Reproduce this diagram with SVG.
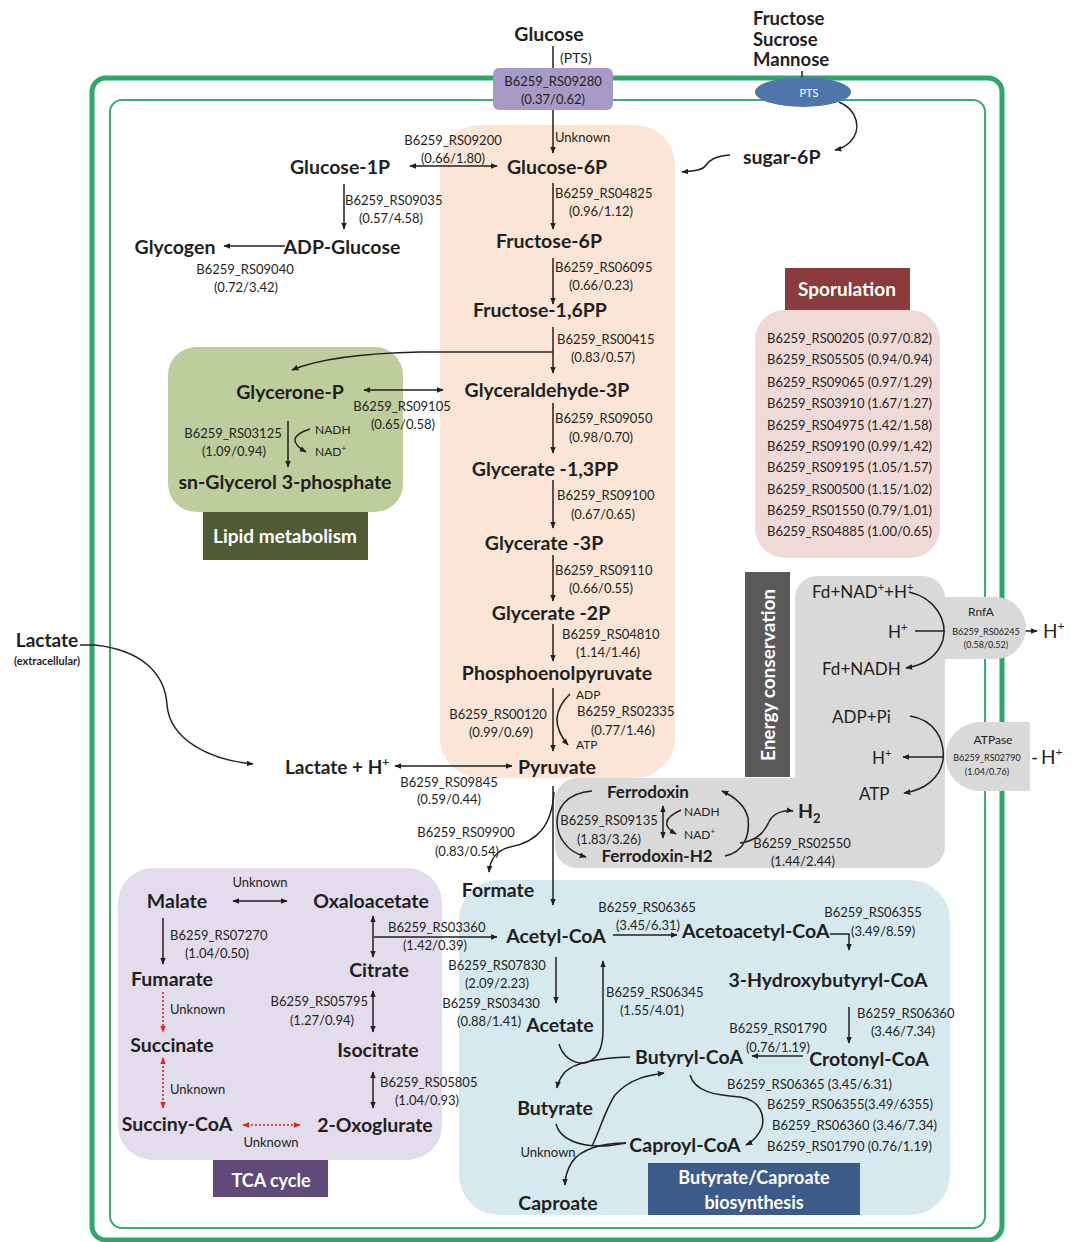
<svg xmlns="http://www.w3.org/2000/svg" width="1074" height="1242" viewBox="0 0 1074 1242">
<defs>
<marker id="a" viewBox="0 0 10 10" refX="9" refY="5" markerWidth="7" markerHeight="7" markerUnits="userSpaceOnUse" orient="auto-start-reverse"><path d="M0,1 L10,5 L0,9 z" fill="#231f20"/></marker>
<marker id="r" viewBox="0 0 10 10" refX="9" refY="5" markerWidth="7" markerHeight="7" markerUnits="userSpaceOnUse" orient="auto-start-reverse"><path d="M0,1 L10,5 L0,9 z" fill="#e2231a"/></marker>
<style>
text{font-family:Lato,"Liberation Sans",sans-serif;fill:#231f20}
.m{font-size:19.5px;font-weight:bold}
.m2{font-size:17px;font-weight:bold}
.g{font-size:13px}
.s{font-size:12px}
.t{font-size:9px}
.e{font-size:17px}
.w{fill:#fff;font-size:19px;font-weight:bold}
.c{text-anchor:middle}
.ln{fill:none;stroke:#231f20;stroke-width:1.5}
.ar{marker-end:url(#a)}
.da{marker-start:url(#a);marker-end:url(#a)}
.rd{fill:none;stroke:#e2231a;stroke-width:1.6;stroke-dasharray:2 2}
</style>
</defs>

<g id="membrane">
<rect x="92" y="78" width="910" height="1162" rx="14" fill="none" stroke="#2ea86a" stroke-width="5"/>
<rect x="110" y="100" width="875" height="1128" rx="12" fill="none" stroke="#3daa6e" stroke-width="2"/>
</g>

<g id="regions">
<rect id="glycolysis-box" x="440" y="125" width="235" height="653" rx="40" fill="#fbe5d6"/>
<rect id="lipid-box" x="168" y="347" width="235" height="165" rx="28" fill="#bdcd9b"/>
<rect x="203" y="512" width="165" height="48" fill="#505b35"/>
<rect id="sporulation-box" x="755" y="310" width="185" height="248" rx="30" fill="#efdad8"/>
<rect x="785" y="268" width="125" height="42" fill="#8a3b3b"/>
<rect x="795" y="576" width="150" height="292" rx="22" fill="#d9d9d9"/>
<rect x="555" y="778" width="390" height="90" rx="22" fill="#d9d9d9"/>
<rect x="745" y="572" width="45" height="205" fill="#595959"/>
<rect id="tca-box" x="118" y="868" width="324" height="292" rx="35" fill="#e2dcec"/>
<rect x="213" y="1160" width="115" height="37" fill="#5f4a7a"/>
<rect id="butyrate-box" x="459" y="880" width="491" height="335" rx="40" fill="#d6e9ef"/>
<rect x="648" y="1163" width="212" height="52" fill="#3c5b88"/>
</g>

<g id="connectors">
<path class="ln" d="M553,46 V68"/>
<path class="ln ar" d="M553,110 V153"/>
<path class="ln da" d="M410,166 H497"/>
<path class="ln ar" d="M344,184 V229"/>
<path class="ln ar" d="M285,246 H224"/>
<path class="ln ar" d="M553,183 V229"/>
<path class="ln ar" d="M553,258 V304"/>
<path class="ln ar" d="M553,327 V373"/>
<path class="ln ar" d="M553,352 H420 Q330,354 292,370"/>
<path class="ln da" d="M364,390 H443"/>
<path class="ln ar" d="M288,421 V467"/>
<path class="ln ar" d="M310,429 Q282,438 306,452"/>
<path class="ln ar" d="M553,403 V453"/>
<path class="ln ar" d="M553,480 V528"/>
<path class="ln ar" d="M553,555 V601"/>
<path class="ln ar" d="M553,624 V661"/>
<path class="ln ar" d="M553,688 V751"/>
<path class="ln ar" d="M570,694 Q545,718 568,745"/>
<path class="ln da" d="M395,766 H512"/>
<path class="ln ar" d="M80,645 H95 C140,650 165,672 167,705 C170,740 210,760 253,764"/>
<path class="ln ar" d="M553,786 V905"/>
<path class="ln ar" d="M554,792 C552,825 538,842 510,847 C495,851 490,860 489,872"/>
<path class="ln ar" d="M592,791 C565,793 557,810 557,822 C557,838 568,852 586,857"/>
<path class="ln ar" d="M725,856 C745,852 750,834 748,818 C745,805 735,797 722,791"/>
<path class="ln ar" d="M740,843 C760,840 765,830 770,820 C775,812 785,810 793,811"/>
<path class="ln da" d="M663,806 V838"/>
<path class="ln ar" d="M681,810 Q655,822 676,834"/>
<path class="ln" d="M915,631 H945"/>
<path class="ln ar" d="M909,592 C935,598 948,620 943,640 C938,655 925,665 906,668"/>
<path class="ln ar" d="M1022,631 H1037"/>
<path class="ln ar" d="M910,716 C935,720 945,740 943,760 C940,778 925,790 904,793"/>
<path class="ln ar" d="M943,757 H903"/>
<path class="ln ar" d="M730,155 C715,156 710,160 706,165 C703,170 695,171 682,172"/>
<path class="ln ar" d="M839,102 C858,110 862,130 850,142 C845,147 840,149 835,150"/>
<path class="ln" d="M802,71 V78"/>
<path class="ln da" d="M233,901 H287"/>
<path class="ln ar" d="M163,918 V964"/>
<path class="rd" marker-end="url(#r)" d="M163,992 V1032"/>
<path class="rd" marker-start="url(#r)" marker-end="url(#r)" d="M163,1058 V1108"/>
<path class="rd" marker-start="url(#r)" marker-end="url(#r)" d="M243,1125 H300"/>
<path class="ln da" d="M373,916 V957"/>
<path class="ln ar" d="M374,937 H497"/>
<path class="ln da" d="M373,991 V1032"/>
<path class="ln da" d="M373,1072 V1108"/>
<path class="ln ar" d="M613,935 H677"/>
<path class="ln ar" d="M830,934 H849 V950"/>
<path class="ln ar" d="M849,1007 V1043"/>
<path class="ln ar" d="M803,1056 H752"/>
<path class="ln ar" d="M556,957 V1003"/>
<path class="ln ar" d="M559,1044 C563,1058 575,1064 585,1063 C598,1060 603,1048 603,1030 V961"/>
<path class="ln ar" d="M630,1057 C600,1058 575,1062 565,1072 C560,1078 558,1082 557,1088"/>
<path class="ln" d="M556,1124 C560,1140 580,1146 600,1146 C610,1146 620,1144 626,1143"/>
<path class="ln ar" d="M626,1143 C600,1143 580,1150 572,1162 C567,1170 565,1178 565,1185"/>
<path class="ln ar" d="M592,1146 C600,1130 605,1110 615,1095 C630,1078 650,1075 664,1073"/>
<path class="ln ar" d="M690,1075 C695,1092 715,1095 740,1097 C760,1100 765,1115 762,1127 C758,1137 752,1142 746,1145"/>
</g>

<g id="transporter-RS09280">
<rect x="493" y="68" width="120" height="42" rx="6" fill="#a69bc6"/>
<text class="g c" x="553" y="86">B6259_RS09280</text>
<text class="g c" x="553" y="104">(0.37/0.62)</text>
</g>
<g id="transporter-PTS">
<ellipse cx="803" cy="92" rx="48" ry="15" fill="#4f75aa"/>
<text class="s c" x="809" y="97" style="fill:#fff;font-size:11px">PTS</text>
</g>
<g id="transporter-RnfA">
<path d="M945,597 H995 A31,31 0 0 1 995,659 H945 Z" fill="#d9d9d9"/>
<text class="s c" x="981" y="616">RnfA</text>
<text class="t c" x="986" y="635">B6259_RS06245</text>
<text class="t c" x="986" y="648">(0.58/0.52)</text>
</g>
<g id="transporter-ATPase">
<path d="M1030,722 V791 H980 A34.5,34.5 0 0 1 980,722 Z" fill="#d9d9d9"/>
<text class="s c" x="993" y="744">ATPase</text>
<text class="t c" x="987" y="761">B6259_RS02790</text>
<text class="t c" x="987" y="775">(1.04/0.76)</text>
</g>

<g id="glucose"><text class="m c" x="549" y="41">Glucose</text><text class="g" x="560" y="63" style="font-size:14px">(PTS)</text></g>
<g id="fsm">
<text class="m" x="753" y="25" style="font-size:18.5px">Fructose</text>
<text class="m" x="753" y="45.5" style="font-size:18.5px">Sucrose</text>
<text class="m" x="753" y="66" style="font-size:18.5px">Mannose</text>
</g>
<g id="sugar-6p"><text class="m" x="743" y="164">sugar-6P</text></g>
<g id="glucose-6p"><text class="m c" x="557" y="174">Glucose-6P</text><text class="g" x="555" y="142">Unknown</text></g>
<g id="glucose-1p"><text class="m c" x="340" y="174">Glucose-1P</text>
<text class="g c" x="453" y="145">B6259_RS09200</text><text class="g c" x="453" y="163">(0.66/1.80)</text>
<text class="g" x="345" y="205">B6259_RS09035</text><text class="g c" x="391" y="223">(0.57/4.58)</text></g>
<g id="adp-glucose"><text class="m c" x="342" y="254">ADP-Glucose</text>
<text class="g c" x="245" y="274">B6259_RS09040</text><text class="g c" x="246" y="292">(0.72/3.42)</text></g>
<g id="glycogen"><text class="m c" x="175" y="254">Glycogen</text></g>
<g id="fructose-6p"><text class="m c" x="549" y="248">Fructose-6P</text>
<text class="g" x="555" y="198">B6259_RS04825</text><text class="g c" x="601" y="216">(0.96/1.12)</text></g>
<g id="fructose-16pp"><text class="m c" x="540" y="317">Fructose-1,6PP</text>
<text class="g" x="555" y="272">B6259_RS06095</text><text class="g c" x="601" y="290">(0.66/0.23)</text></g>
<g id="glyceraldehyde-3p"><text class="m c" x="547" y="397">Glyceraldehyde-3P</text>
<text class="g" x="557" y="344">B6259_RS00415</text><text class="g c" x="603" y="362">(0.83/0.57)</text></g>
<g id="glycerone-p"><text class="m c" x="290" y="399">Glycerone-P</text>
<text class="g c" x="402" y="411">B6259_RS09105</text><text class="g c" x="403" y="429">(0.65/0.58)</text></g>
<g id="sn-glycerol-3p"><text class="m c" x="285" y="489">sn-Glycerol 3-phosphate</text>
<text class="s" x="315" y="434">NADH</text><text class="s" x="315" y="456">NAD<tspan font-size="8" dy="-5">+</tspan></text>
<text class="g c" x="233" y="438">B6259_RS03125</text><text class="g c" x="234" y="456">(1.09/0.94)</text></g>
<g id="lipid-label"><text class="w c" x="285" y="543">Lipid metabolism</text></g>
<g id="glycerate-13pp"><text class="m c" x="545" y="476">Glycerate -1,3PP</text>
<text class="g" x="555" y="423">B6259_RS09050</text><text class="g c" x="601" y="442">(0.98/0.70)</text></g>
<g id="glycerate-3p"><text class="m c" x="544" y="550">Glycerate -3P</text>
<text class="g" x="557" y="500">B6259_RS09100</text><text class="g c" x="603" y="519">(0.67/0.65)</text></g>
<g id="glycerate-2p"><text class="m c" x="551" y="620">Glycerate -2P</text>
<text class="g" x="555" y="575">B6259_RS09110</text><text class="g c" x="601" y="593">(0.66/0.55)</text></g>
<g id="pep"><text class="m c" x="557" y="680">Phosphoenolpyruvate</text>
<text class="g" x="562" y="639">B6259_RS04810</text><text class="g c" x="608" y="657">(1.14/1.46)</text></g>
<g id="pyruvate"><text class="m c" x="557" y="774">Pyruvate</text>
<text class="s" x="576" y="699">ADP</text><text class="s" x="576" y="749">ATP</text>
<text class="g c" x="498" y="719">B6259_RS00120</text><text class="g c" x="501" y="737">(0.99/0.69)</text>
<text class="g" x="577" y="716">B6259_RS02335</text><text class="g c" x="623" y="735">(0.77/1.46)</text></g>
<g id="lactate-h"><text class="m" x="285" y="774" style="font-size:19px">Lactate + H<tspan font-size="12" dy="-8">+</tspan></text>
<text class="g c" x="449" y="787">B6259_RS09845</text><text class="g c" x="449" y="804">(0.59/0.44)</text></g>
<g id="lactate-ext"><text class="c" x="47" y="647" style="font-size:19px;font-weight:bold">Lactate</text>
<text class="c" x="47" y="665" style="font-size:11px;font-weight:bold">(extracellular)</text></g>

<g id="sporulation">
<text class="w c" x="847" y="296">Sporulation</text>
<text class="g" x="767" y="343">B6259_RS00205 (0.97/0.82)</text>
<text class="g" x="767" y="364">B6259_RS05505 (0.94/0.94)</text>
<text class="g" x="767" y="387">B6259_RS09065 (0.97/1.29)</text>
<text class="g" x="767" y="408">B6259_RS03910 (1.67/1.27)</text>
<text class="g" x="767" y="430">B6259_RS04975 (1.42/1.58)</text>
<text class="g" x="767" y="451">B6259_RS09190 (0.99/1.42)</text>
<text class="g" x="767" y="472">B6259_RS09195 (1.05/1.57)</text>
<text class="g" x="767" y="494">B6259_RS00500 (1.15/1.02)</text>
<text class="g" x="767" y="515">B6259_RS01550 (0.79/1.01)</text>
<text class="g" x="767" y="536">B6259_RS04885  (1.00/0.65)</text>
</g>

<g id="energy">
<text class="w c" transform="translate(775,675) rotate(-90)">Energy conservation</text>
<text class="e" x="812" y="598">Fd+NAD<tspan font-size="11" dy="-7">+</tspan><tspan dy="7">+H</tspan><tspan font-size="11" dy="-7">+</tspan></text>
<text class="e" x="888" y="638">H<tspan font-size="11" dy="-7">+</tspan></text>
<text class="e" x="822" y="675">Fd+NADH</text>
<text class="e" x="832" y="723">ADP+Pi</text>
<text class="e" x="872" y="764">H<tspan font-size="11" dy="-7">+</tspan></text>
<text class="e" x="859" y="800">ATP</text>
<text x="1043" y="638" style="font-size:19px">H<tspan font-size="12" dy="-8">+</tspan></text>
<text x="1031" y="764" style="font-size:19px">-</text>
<text x="1041" y="764" style="font-size:19px">H<tspan font-size="12" dy="-8">+</tspan></text>
</g>

<g id="ferrodoxin"><text class="m2 c" x="648" y="798">Ferrodoxin</text></g>
<g id="ferrodoxin-h2"><text class="m2 c" x="657" y="862">Ferrodoxin-H2</text>
<text class="s" x="684" y="816">NADH</text><text class="s" x="684" y="839">NAD<tspan font-size="8" dy="-5">+</tspan></text>
<text class="g c" x="609" y="825">B6259_RS09135</text><text class="g c" x="609" y="844">(1.83/3.26)</text></g>
<g id="h2"><text class="m" x="798" y="818">H<tspan font-size="13" dy="5">2</tspan></text>
<text class="g c" x="802" y="848">B6259_RS02550</text><text class="g c" x="803" y="866">(1.44/2.44)</text></g>
<g id="formate"><text class="m c" x="498" y="897">Formate</text>
<text class="g c" x="466" y="837">B6259_RS09900</text><text class="g c" x="467" y="856">(0.83/0.54)</text></g>

<g id="malate"><text class="m c" x="177" y="908">Malate</text><text class="g c" x="260" y="887">Unknown</text>
<text class="g" x="170" y="940">B6259_RS07270</text><text class="g c" x="217" y="958">(1.04/0.50)</text></g>
<g id="oxaloacetate"><text class="m c" x="371" y="908">Oxaloacetate</text>
<text class="g" x="388" y="932">B6259_RS03360</text><text class="g c" x="435" y="950">(1.42/0.39)</text></g>
<g id="fumarate"><text class="m c" x="172" y="986">Fumarate</text><text class="g" x="170" y="1014">Unknown</text></g>
<g id="succinate"><text class="m c" x="172" y="1052">Succinate</text><text class="g" x="170" y="1094">Unknown</text></g>
<g id="succinyl-coa"><text class="m c" x="177" y="1131">Succiny-CoA</text><text class="g c" x="271" y="1147">Unknown</text></g>
<g id="oxoglurate"><text class="m c" x="375" y="1132">2-Oxoglurate</text>
<text class="g" x="380" y="1087">B6259_RS05805</text><text class="g c" x="427" y="1105">(1.04/0.93)</text></g>
<g id="citrate"><text class="m c" x="379" y="977">Citrate</text>
<text class="g" x="368" y="1006" text-anchor="end">B6259_RS05795</text><text class="g c" x="322" y="1025">(1.27/0.94)</text></g>
<g id="isocitrate"><text class="m c" x="378" y="1057">Isocitrate</text></g>
<g id="tca-label"><text class="w c" x="271" y="1187" style="font-size:18px">TCA cycle</text></g>

<g id="acetyl-coa"><text class="m c" x="556" y="943">Acetyl-CoA</text>
<text class="g c" x="647" y="912">B6259_RS06365</text><text class="g c" x="648" y="930">(3.45/6.31)</text></g>
<g id="acetoacetyl-coa"><text class="m" x="682" y="938">Acetoacetyl-CoA</text>
<text class="g c" x="873" y="917">B6259_RS06355</text><text class="g" x="851" y="936">(3.49/8.59)</text></g>
<g id="hydroxybutyryl-coa"><text class="m c" x="828" y="987">3-Hydroxybutyryl-CoA</text>
<text class="g" x="857" y="1018">B6259_RS06360</text><text class="g c" x="903" y="1036">(3.46/7.34)</text></g>
<g id="crotonyl-coa"><text class="m c" x="869" y="1066">Crotonyl-CoA</text>
<text class="g c" x="778" y="1033">B6259_RS01790</text><text class="g c" x="778" y="1052">(0.76/1.19)</text></g>
<g id="butyryl-coa"><text class="m c" x="689" y="1064">Butyryl-CoA</text>
<text class="g" x="606" y="997">B6259_RS06345</text><text class="g c" x="652" y="1015">(1.55/4.01)</text></g>
<g id="acetate"><text class="m c" x="560" y="1032">Acetate</text>
<text class="g c" x="497" y="970">B6259_RS07830</text><text class="g c" x="497" y="988">(2.09/2.23)</text>
<text class="g c" x="491" y="1008">B6259_RS03430</text><text class="g" x="457" y="1026">(0.88/1.41)</text></g>
<g id="butyrate"><text class="m c" x="555" y="1115">Butyrate</text></g>
<g id="caproyl-coa"><text class="m c" x="685" y="1152">Caproyl-CoA</text>
<text class="g" x="727" y="1089">B6259_RS06365 (3.45/6.31)</text>
<text class="g" x="767" y="1109">B6259_RS06355(3.49/6355)</text>
<text class="g" x="772" y="1130">B6259_RS06360 (3.46/7.34)</text>
<text class="g" x="767" y="1151">B6259_RS01790 (0.76/1.19)</text></g>
<g id="caproate"><text class="m c" x="558" y="1210">Caproate</text><text class="g c" x="548" y="1157">Unknown</text></g>
<g id="butyrate-label"><text class="w c" x="754" y="1184" style="font-size:18px">Butyrate/Caproate</text><text class="w c" x="754" y="1209" style="font-size:18px">biosynthesis</text></g>
</svg>
